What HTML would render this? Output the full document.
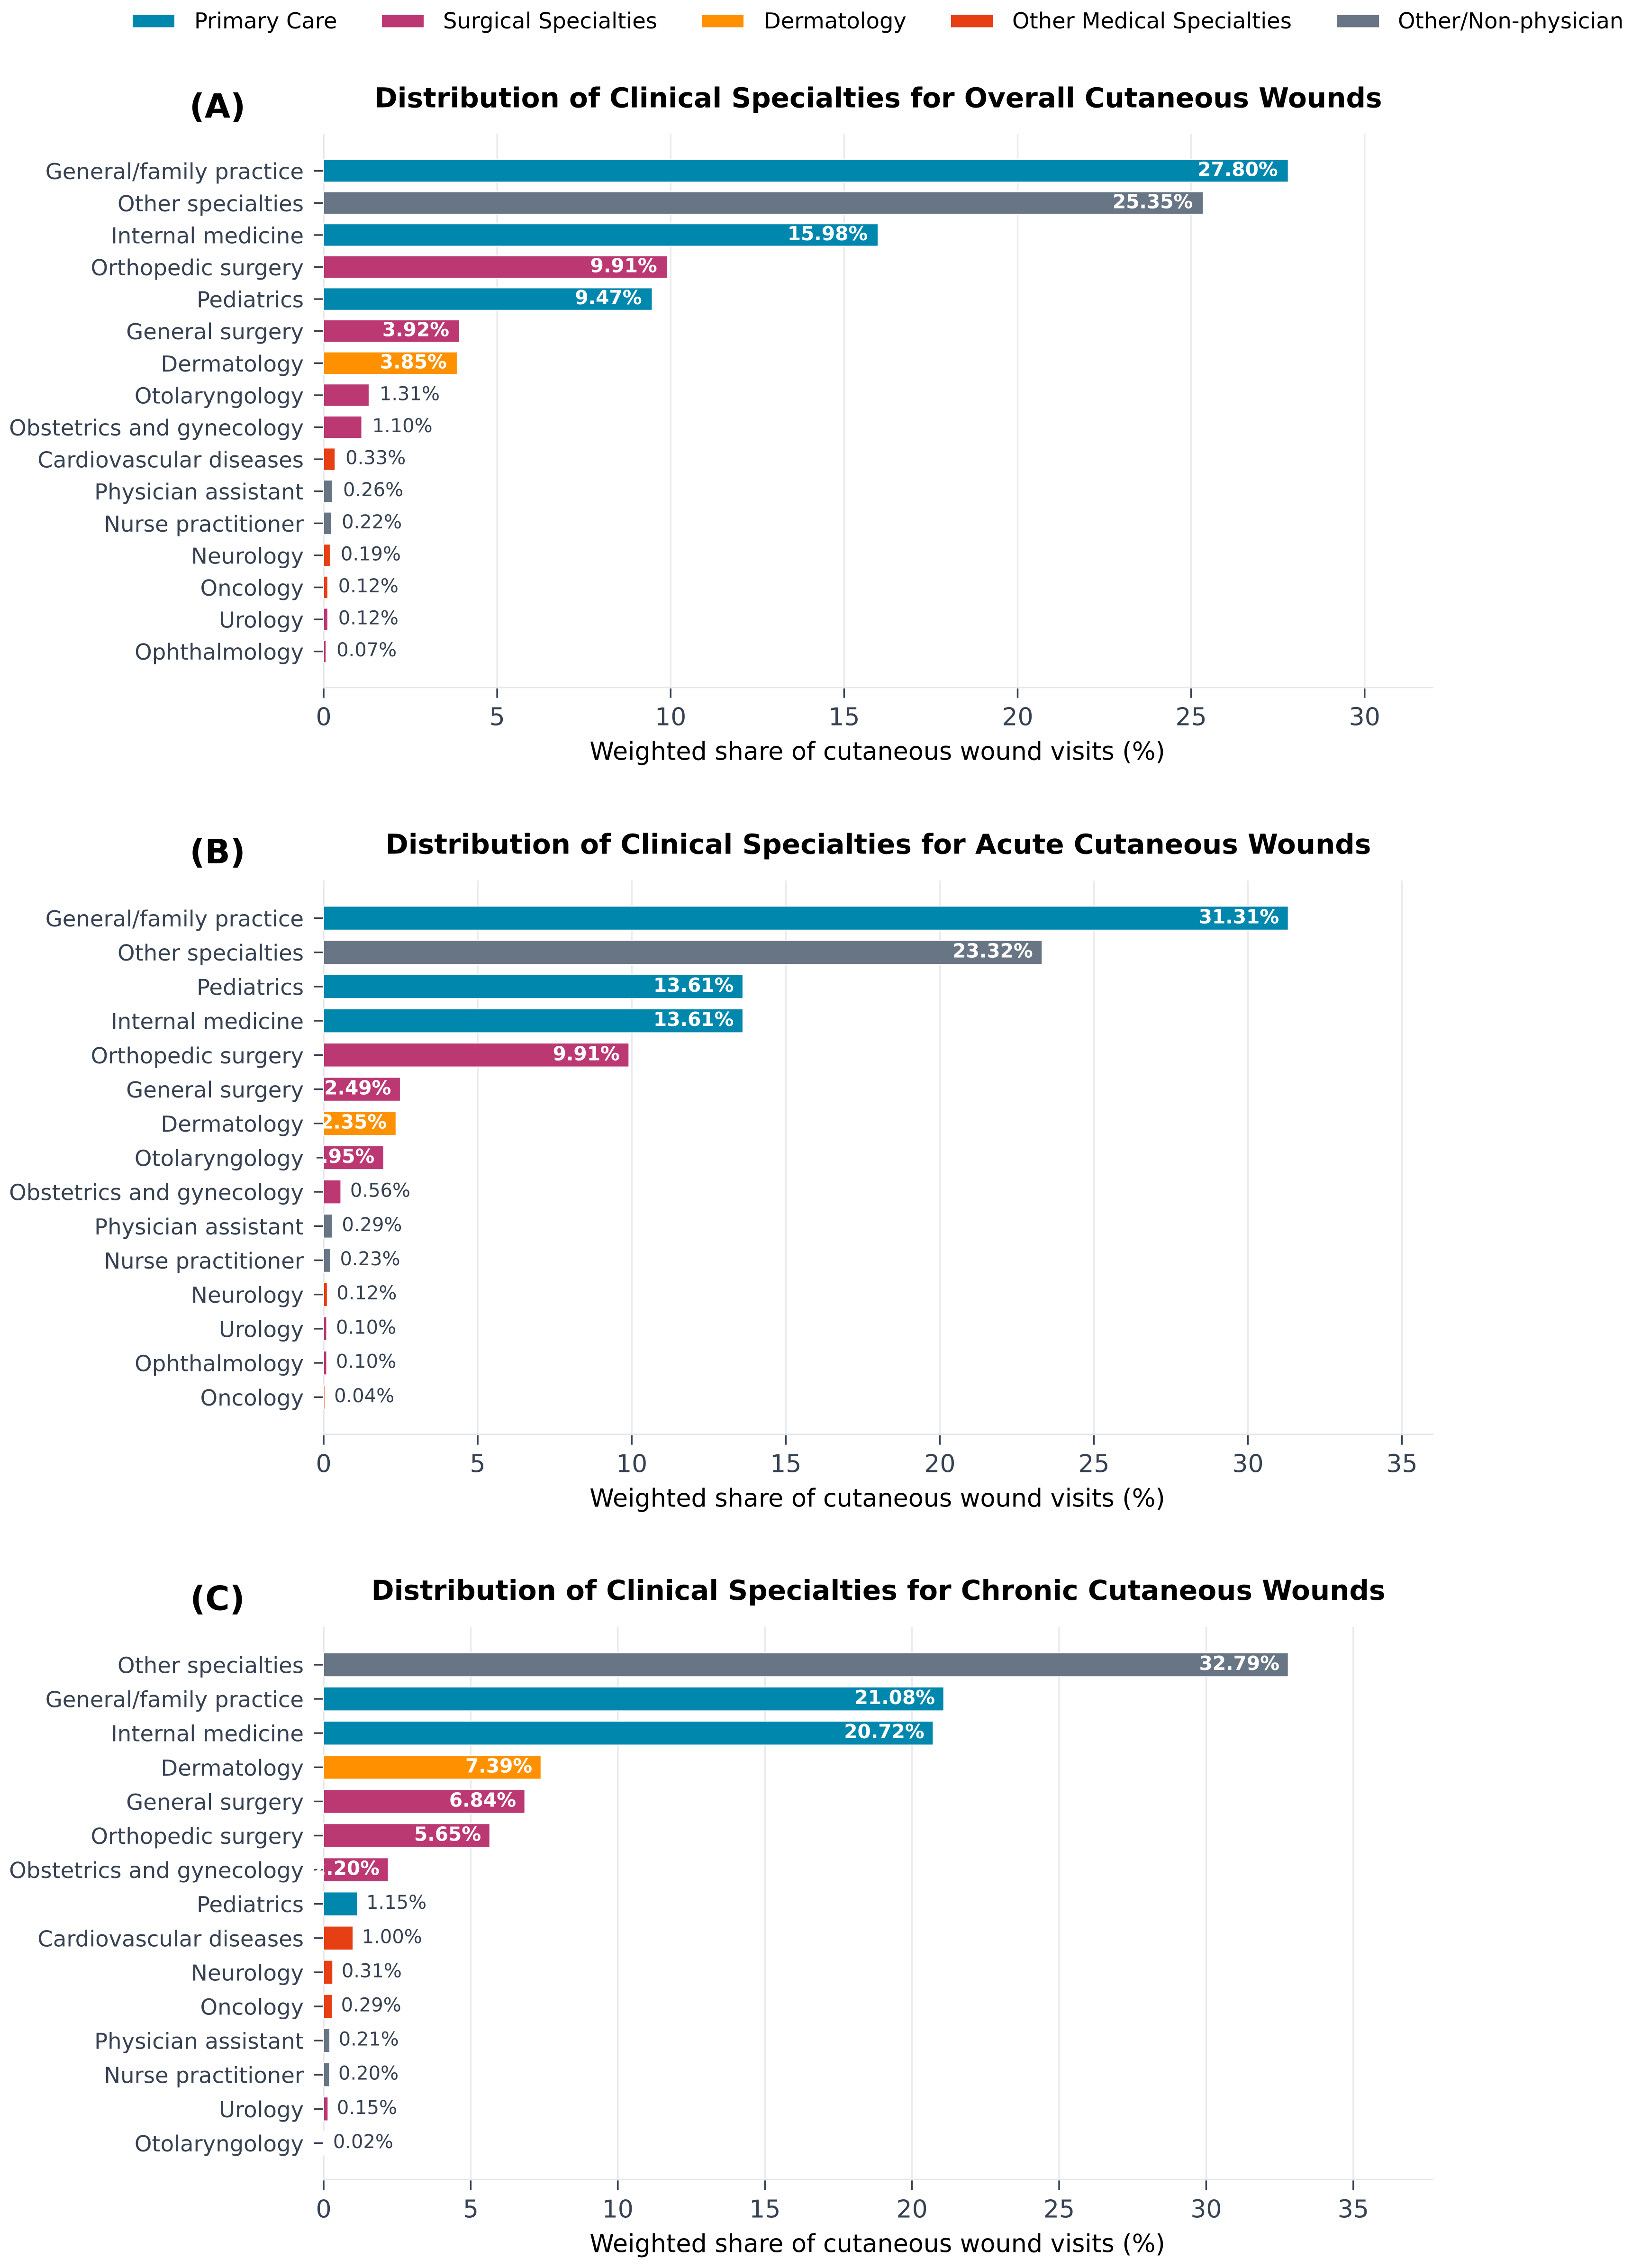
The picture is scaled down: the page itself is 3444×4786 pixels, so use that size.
<!DOCTYPE html>
<html>
<head>
<meta charset="utf-8">
<title>Distribution of Clinical Specialties for Cutaneous Wounds</title>
<style>
  html, body { margin: 0; padding: 0; background: #ffffff; }
  svg { display: block; }
  text { font-family: "DejaVu Sans", "Liberation Sans", sans-serif; }
</style>
</head>
<body>
<svg id="chart" xmlns="http://www.w3.org/2000/svg" width="3444" height="4786" viewBox="0 0 3444 4786">
  <rect x="0" y="0" width="3444" height="4786" fill="#ffffff"/>
  <g font-size="46.4" fill="#000000">
    <g>
      <rect x="280" y="31.5" width="88" height="26" fill="#0087ad"/>
      <text x="410" y="60">Primary Care</text>
    </g>
    <g>
      <rect x="806" y="31.5" width="88" height="26" fill="#bb3873"/>
      <text x="935" y="60">Surgical Specialties</text>
    </g>
    <g>
      <rect x="1481" y="31.5" width="88" height="26" fill="#ff9100"/>
      <text x="1612" y="60">Dermatology</text>
    </g>
    <g>
      <rect x="2007" y="31.5" width="88" height="26" fill="#e63f13"/>
      <text x="2136" y="60">Other Medical Specialties</text>
    </g>
    <g>
      <rect x="2822" y="31.5" width="88" height="26" fill="#687584"/>
      <text x="2950" y="60">Other/Non-physician</text>
    </g>
  </g>
</svg>
<script>
// ---- Panel A data ----
const panelACategories = ["General/family practice","Other specialties","Internal medicine","Orthopedic surgery","Pediatrics","General surgery","Dermatology","Otolaryngology","Obstetrics and gynecology","Cardiovascular diseases","Physician assistant","Nurse practitioner","Neurology","Oncology","Urology","Ophthalmology"];
const panelAValues = [27.80,25.35,15.98,9.91,9.47,3.92,3.85,1.31,1.10,0.33,0.26,0.22,0.19,0.12,0.12,0.07];
const panelAGroups = ["primary","other","primary","surgical","primary","surgical","derm","surgical","surgical","medical","other","other","medical","medical","surgical","surgical"];
const panelATicks = [0,5,10,15,20,25,30];

// ---- Panel B data ----
const panelBCategories = ["General/family practice","Other specialties","Pediatrics","Internal medicine","Orthopedic surgery","General surgery","Dermatology","Otolaryngology","Obstetrics and gynecology","Physician assistant","Nurse practitioner","Neurology","Urology","Ophthalmology","Oncology"];
const panelBValues = [31.31,23.32,13.61,13.61,9.91,2.49,2.35,1.95,0.56,0.29,0.23,0.12,0.10,0.10,0.04];
const panelBGroups = ["primary","other","primary","primary","surgical","surgical","derm","surgical","surgical","other","other","medical","surgical","surgical","medical"];
const panelBTicks = [0,5,10,15,20,25,30,35];

// ---- Panel C data ----
const panelCCategories = ["Other specialties","General/family practice","Internal medicine","Dermatology","General surgery","Orthopedic surgery","Obstetrics and gynecology","Pediatrics","Cardiovascular diseases","Neurology","Oncology","Physician assistant","Nurse practitioner","Urology","Otolaryngology"];
const panelCValues = [32.79,21.08,20.72,7.39,6.84,5.65,2.20,1.15,1.00,0.31,0.29,0.21,0.20,0.15,0.02];
const panelCGroups = ["other","primary","primary","derm","surgical","surgical","surgical","primary","medical","medical","medical","other","other","surgical","surgical"];
const panelCTicks = [0,5,10,15,20,25,30,35];

const groupColors = { primary: "#0087ad", surgical: "#bb3873", derm: "#ff9100", medical: "#e63f13", other: "#687584" };
const SVG_NS = "http://www.w3.org/2000/svg";
const INSIDE_THRESHOLD = 1.5;
const LABEL_PAD_UNITS = 0.3;
const TEXT_COLOR = "#364152";
const PLOT_LEFT = 683;
const PLOT_RIGHT = 3024;

const panels = [
  { letter: "(A)", title: "Distribution of Clinical Specialties for Overall Cutaneous Wounds", categories: panelACategories, values: panelAValues, groups: panelAGroups, ticks: panelATicks, top: 283, bottom: 1450.7, firstY: 360.7, step: 67.6, letterY: 248.5 },
  { letter: "(B)", title: "Distribution of Clinical Specialties for Acute Cutaneous Wounds", categories: panelBCategories, values: panelBValues, groups: panelBGroups, ticks: panelBTicks, top: 1858, bottom: 3026.7, firstY: 1937.5, step: 72.2, letterY: 1821.7 },
  { letter: "(C)", title: "Distribution of Clinical Specialties for Chronic Cutaneous Wounds", categories: panelCCategories, values: panelCValues, groups: panelCGroups, ticks: panelCTicks, top: 3432.7, bottom: 4599.3, firstY: 3513, step: 72.1, letterY: 3397.3 }
];

function make(tag, attrs, parent) {
  const node = document.createElementNS(SVG_NS, tag);
  for (const key in attrs) node.setAttribute(key, attrs[key]);
  parent.appendChild(node);
  return node;
}

function drawPanel(p, root) {
  const xMax = Math.max.apply(null, p.values) * 1.15;
  const xScale = function (v) { return PLOT_LEFT + v * (PLOT_RIGHT - PLOT_LEFT) / xMax; };
  const yScale = function (i) { return p.firstY + i * p.step; };
  const barHeight = p.step * 0.7;
  const centerX = (PLOT_LEFT + PLOT_RIGHT) / 2;
  let el;

  const g = make("g", {}, root);
  
  

  el = make("text", { x: 459, y: p.letterY, "font-size": 70, "font-weight": "bold", "text-anchor": "middle", fill: "#000000" }, g);
  
  
  el.textContent = p.letter;

  el = make("text", { x: centerX, y: p.top - 56.5, "font-size": 58, "font-weight": "bold", "text-anchor": "middle", fill: "#000000" }, g);
  
  
  el.textContent = p.title;

  // grid lines and x ticks
  p.ticks.forEach(function (t) {
    const x = xScale(t);
    let node = make("line", { x1: x, x2: x, y1: p.top, y2: p.bottom, stroke: t === 0 ? "#e4e6ea" : "#e9ebef", "stroke-width": 3.5 }, g);
    
    
  });

  // bars
  p.values.forEach(function (v, i) {
    const node = make("rect", { x: xScale(0), y: yScale(i) - barHeight / 2, width: xScale(v) - xScale(0), height: barHeight, fill: groupColors[p.groups[i]], stroke: "#ffffff", "stroke-width": 2 }, g);
    
    
  });

  // bottom spine
  el = make("line", { x1: PLOT_LEFT - 1.5, x2: PLOT_RIGHT + 1, y1: p.bottom, y2: p.bottom, stroke: "#e4e6ea", "stroke-width": 3 }, g);
  
  

  // x ticks + labels
  p.ticks.forEach(function (t) {
    const x = xScale(t);
    let node = make("line", { x1: x, x2: x, y1: p.bottom + 2, y2: p.bottom + 22, stroke: TEXT_COLOR, "stroke-width": 3.5 }, g);
    
    
    node = make("text", { x: x, y: p.bottom + 80, "font-size": 52, "text-anchor": "middle", fill: TEXT_COLOR }, g);
    
    
    node.textContent = String(t);
  });

  // y ticks + labels
  p.categories.forEach(function (c, i) {
    const y = yScale(i);
    let node = make("line", { x1: 662.5, x2: 681, y1: y, y2: y, stroke: TEXT_COLOR, "stroke-width": 3.4 }, g);
    
    
    node = make("text", { x: 641, y: y + 17.5, "font-size": 46.5, "text-anchor": "end", fill: TEXT_COLOR }, g);
    
    
    node.textContent = c;
  });

  // value labels (white ones may spill over the axis onto the tick marks)
  p.values.forEach(function (v, i) {
    const inside = v > INSIDE_THRESHOLD;
    const x = inside ? xScale(v - LABEL_PAD_UNITS) : xScale(v + LABEL_PAD_UNITS);
    const node = make("text", { x: x, y: yScale(i) + (inside ? 11 : 10.5), "font-size": inside ? 40.7 : 40, "font-weight": inside ? "bold" : "normal", "text-anchor": inside ? "end" : "start", fill: inside ? "#ffffff" : TEXT_COLOR }, g);
    
    
    node.textContent = v.toFixed(2) + "%";
  });

  el = make("text", { x: centerX - 2, y: p.bottom + 153, "font-size": 52.3, "text-anchor": "middle", fill: "#000000" }, g);
  
  
  el.textContent = "Weighted share of cutaneous wound visits (%)";
}

const chartRoot = document.getElementById("chart");
panels.forEach(function (p) { drawPanel(p, chartRoot); });
</script>
</body>
</html>
